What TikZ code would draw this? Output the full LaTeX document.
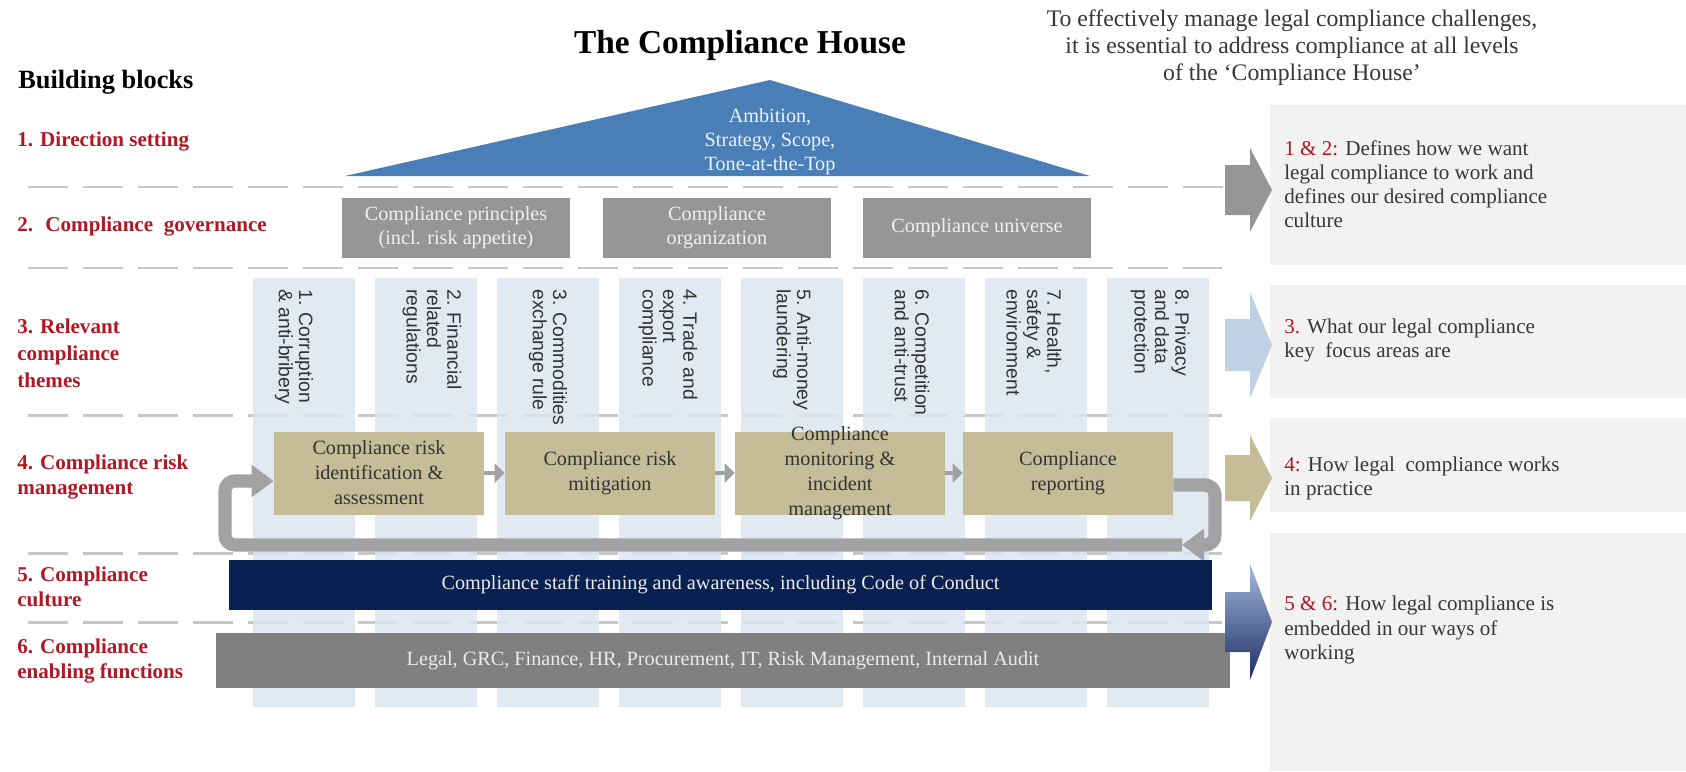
\documentclass[tikz,border=0pt]{standalone}
\usepackage{fontspec}
\setmainfont{Liberation Serif}
\setsansfont{Liberation Sans}
\usetikzlibrary{arrows.meta,positioning}
\definecolor{roofblue}{RGB}{74,126,182}
\definecolor{labelred}{RGB}{176,24,36}
\definecolor{govgray}{RGB}{150,150,150}
\definecolor{pillarblue}{RGB}{220,230,241}
\definecolor{risktan}{RGB}{196,189,151}
\definecolor{culturenavy}{RGB}{8,33,80}
\definecolor{enablegray}{RGB}{128,128,128}
\definecolor{notegray}{RGB}{242,242,242}
\definecolor{loopgray}{RGB}{162,162,164}
\definecolor{textgray}{RGB}{55,55,55}
\definecolor{arrowblue}{RGB}{190,210,228}

% block arrow pointing into the note panels: fill, y middle, body half, head half
\newcommand{\sidearrow}[4]{%
  \path[#1] (1225,#2-#3) -- (1250,#2-#3) -- (1250,#2-#4) -- (1272,#2)
    -- (1250,#2+#4) -- (1250,#2+#3) -- (1225,#2+#3) -- cycle;}

\tikzset{
  blocklabel/.style={anchor=west, align=left, inner sep=0pt, text=labelred,
    font=\bfseries\fontsize{12}{14}\selectfont},
  layerline/.style={draw=black!22, line width=1.7pt, dash pattern=on 0.8cm off 0.3cm},
  govbox/.style={fill=govgray, text=white!94!black, minimum width=4.58cm,
    minimum height=1.2cm, inner sep=0pt, align=center, font=\fontsize{11.5}{13.6}\selectfont},
  pillar/.style={fill=pillarblue, fill opacity=0.85, minimum width=2.04cm,
    minimum height=8.58cm, inner sep=0pt, anchor=north},
  pillartext/.style={rotate=-90, anchor=west, align=left, inner sep=0pt,
    text=black!80, font=\sffamily\fontsize{11}{11.6}\selectfont},
  riskbox/.style={fill=risktan, minimum width=4.2cm, minimum height=1.66cm,
    inner sep=0pt, align=center, text=black!80, font=\fontsize{11.5}{14.2}\selectfont},
  steparrow/.style={draw=loopgray, line width=2.8pt, -{Triangle[length=0.2cm,width=0.38cm]}},
  cyclearrow/.style={draw=loopgray, line width=7.5pt, rounded corners=0.2cm,
    -{Triangle[length=0.44cm,width=0.62cm]}},
  notebox/.style={fill=notegray, minimum width=8.32cm, inner sep=0pt},
  notetext/.style={anchor=west, align=left, inner sep=0pt, text=textgray,
    font=\fontsize{12}{13.7}\selectfont}
}

\begin{document}
\begin{tikzpicture}[x=0.02cm,y=-0.02cm]
\useasboundingbox (0,0) rectangle (1686,771);
% headings
\node[font=\bfseries\fontsize{19}{23}\selectfont] (title) at (740,45) {The Compliance House};
\node[anchor=west, inner sep=0pt, font=\bfseries\fontsize{15}{18}\selectfont] (blocks) at (18,82) {Building blocks};
\node[align=center, text=textgray, font=\fontsize{13.5}{15.4}\selectfont] (intro) at (1292,48)
  {To effectively manage legal compliance challenges,\\
   it is essential to address compliance at all levels\\
   of the `Compliance House'};

% note panels on the right
\node[notebox, minimum height=3.2cm] (noteA) at (1478,185) {};
\node[notebox, minimum height=2.26cm] (noteB) at (1478,341.5) {};
\node[notebox, minimum height=1.88cm] (noteC) at (1478,465) {};
\node[notebox, minimum height=4.76cm] (noteD) at (1478,652) {};
\node[notetext] (noteAtxt) at (1284,184) {\textcolor{labelred}{1 \& 2:} Defines how we want\\
  legal compliance to work and\\defines our desired compliance\\culture};
\node[notetext] (noteBtxt) at (1284,340) {\textcolor{labelred}{3.} What our legal compliance\\
  key~ focus areas are};
\node[notetext] (noteCtxt) at (1284,478) {\textcolor{labelred}{4:} How legal~ compliance works\\
  in practice};
\node[notetext] (noteDtxt) at (1284,630) {\textcolor{labelred}{5 \& 6:} How legal compliance is\\
  embedded in our ways of\\working};

% layer separators
\draw[layerline] (28,187) -- (1262,187);
\draw[layerline] (28,268) -- (1222,268);
\draw[layerline] (28,415) -- (1222,415);
\draw[layerline] (28,553) -- (1222,553);
\draw[layerline] (28,622) -- (1222,622);

% pillars (themes)
\node[pillar] (pil1) at (304,278) {};
\node[pillar] (pil2) at (426,278) {};
\node[pillar] (pil3) at (548,278) {};
\node[pillar] (pil4) at (670,278) {};
\node[pillar] (pil5) at (792,278) {};
\node[pillar] (pil6) at (914,278) {};
\node[pillar] (pil7) at (1036,278) {};
\node[pillar] (pil8) at (1158,278) {};
\node[pillartext] (pil1txt) at (294,289) {1. Corruption\\\& anti-bribery};
\node[pillartext] (pil2txt) at (432,289) {2. Financial\\related\\regulations};
\node[pillartext] (pil3txt) at (548,289) {3. Commodities\\exchange rule};
\node[pillartext] (pil4txt) at (668,289) {4. Trade and\\export\\compliance};
\node[pillartext] (pil5txt) at (792,289) {5. Anti-money\\laundering};
\node[pillartext] (pil6txt) at (912,289) {6. Competition\\and anti-trust};
\node[pillartext] (pil7txt) at (1034,289) {7. Health,\\safety \&\\environment};
\node[pillartext] (pil8txt) at (1160,289) {8. Privacy\\and data\\protection};

% roof
\fill[roofblue] (345,176) -- (770,80) -- (1090,176) -- cycle;
\node[align=center, text=white!90!roofblue, font=\fontsize{11.5}{13.7}\selectfont] (roof) at (770,142)
  {Ambition,\\Strategy, Scope,\\Tone-at-the-Top};

% governance
\node[govbox] (gov1) at (456,228) {Compliance principles\\(incl. risk appetite)};
\node[govbox] (gov2) at (717,228) {Compliance\\organization};
\node[govbox] (gov3) at (977,228) {Compliance universe};

% risk management cycle
\node[riskbox] (risk1) at (379,473) {Compliance risk\\identification \&\\assessment};
\node[riskbox] (risk2) at (610,473) {Compliance risk\\mitigation};
\node[riskbox, label={[riskbox, fill=none]center:Compliance\\monitoring \&\\incident\\management}] (risk3) at (840,473) {};
\node[riskbox] (risk4) at (1068,473) {Compliance\\reporting};
\draw[steparrow] (risk1) -- (risk2);
\draw[steparrow] (risk2) -- (risk3);
\draw[steparrow] (risk3) -- (risk4);
\coordinate (loopNE) at (1215,485);
\coordinate (loopSE) at (1215,545);
\coordinate (loopTurn) at (1182,545);
\coordinate (loopSW) at (225,545);
\coordinate (loopNW) at (225,481);
\draw[cyclearrow] (risk4.east |- loopNE) -- (loopNE) -- (loopSE) -- (loopTurn);
\draw[cyclearrow] (loopTurn) -- (loopSW) -- (loopNW) -- (risk1.west |- loopNW);

% culture and enabling functions
\node[fill=culturenavy, text=white!92!black, minimum width=19.66cm, minimum height=1cm,
  font=\fontsize{11.5}{13}\selectfont] (culture) at (720.5,585)
  {Compliance staff training and awareness, including Code of Conduct};
\node[fill=enablegray, text=white!92!black, minimum width=20.28cm, minimum height=1.1cm,
  font=\fontsize{11.5}{13}\selectfont] (enable) at (723,660.5)
  {Legal, GRC, Finance, HR, Procurement, IT, Risk Management, Internal Audit};

% building block labels
\node[blocklabel] (lab1) at (17,142) {1. Direction setting};
\node[blocklabel] (lab2) at (17,227) {2.~ Compliance~ governance};
\node[blocklabel, font=\bfseries\fontsize{12}{15.4}\selectfont] (lab3) at (17,353) {3. Relevant\\compliance\\themes};
\node[blocklabel] (lab4) at (17,477) {4. Compliance risk\\management};
\node[blocklabel] (lab5) at (17,587) {5. Compliance\\culture};
\node[blocklabel] (lab6) at (17,661) {6. Compliance\\enabling functions};

% arrows into the notes
\sidearrow{fill=govgray}{190}{25}{42}
\sidearrow{fill=arrowblue}{345}{26}{53}
\sidearrow{fill=risktan}{478}{23}{43}
\sidearrow{top color={rgb,255:red,165;green,185;blue,220}, bottom color={rgb,255:red,28;green,45;blue,100}}{622}{30}{58}
\end{tikzpicture}
\end{document}
